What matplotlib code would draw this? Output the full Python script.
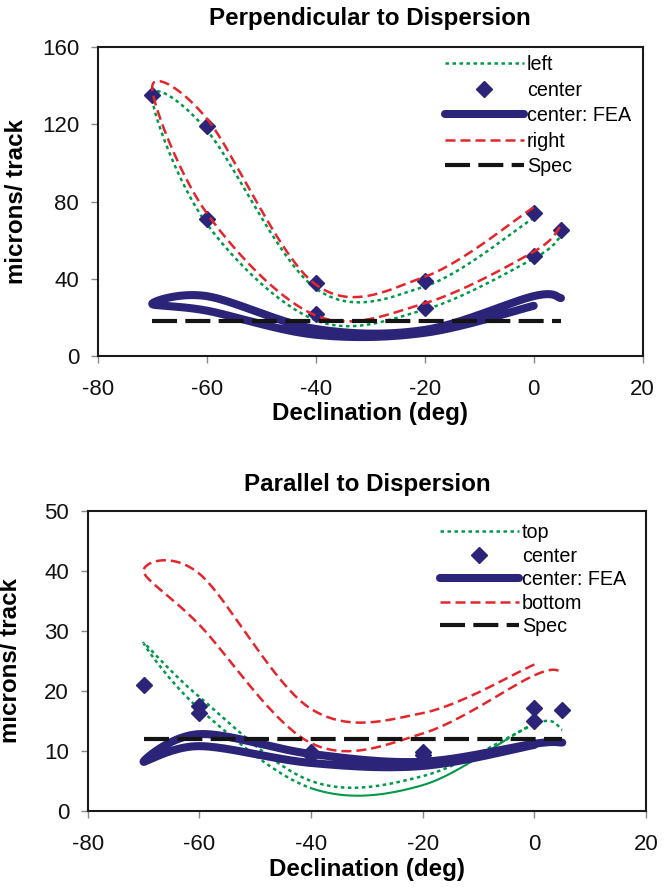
import numpy as np
import matplotlib
matplotlib.use("Agg")
import matplotlib.pyplot as plt
from matplotlib.lines import Line2D

plt.rcParams['font.family'] = ['Liberation Sans', 'DejaVu Sans']
plt.rcParams['axes.unicode_minus'] = False

# Declination sweep order shared by every measured loop (down to -70, then back up)
decl = [0, -20, -40, -60, -70, -60, -40, -20, 0, 5]

# Perpendicular to dispersion (microns / track)
perp_left = [71.5, 36, 35, 117, 134, 68.5, 18.5, 24, 50.5, 62]
perp_right = [77, 41, 37, 123, 139, 74, 21, 27.3, 54, 67.5]
perp_fea = [26, 12, 11, 23.5, 27, 31, 14, 13.5, 31, 30]
perp_center_x = [-70, -60, -60, -40, -40, -20, -20, 0, 0, 5]
perp_center_y = [135, 119, 71, 38, 22, 39, 25, 74, 52, 65]
perp_spec = 18

# Parallel to dispersion (microns / track)
par_top = [14.5, 5.8, 5, 19, 28, 17, 3.8, 4.3, 14.5, 13.5]
par_bottom = [24.4, 16.3, 17, 39.5, 40, 31, 11.3, 12.9, 22.6, 23.2]
par_fea = [11, 7.5, 8, 10.8, 8.2, 12.8, 9.5, 8.2, 11.2, 11.4]
par_center_x = [-70, -60, -60, -40, -40, -20, -20, 0, 0, 5]
par_center_y = [21, 17.5, 16.4, 9.8, 9.3, 9.9, 9.4, 17.1, 15.0, 16.8]
par_spec = 12

spec_x = [-70, 5]
xticks = [-80, -60, -40, -20, 0, 20]
perp_yticks = [0, 40, 80, 120, 160]
par_yticks = [0, 10, 20, 30, 40, 50]

GREEN = '#00994a'
RED = '#e3262b'
NAVY = '#2b2478'
BLACK = '#141414'


def smooth(xs, ys, n=40):
    """Smoothed line through the points (cubic Bezier, 1/6 tangent rule)."""
    P = np.column_stack([xs, ys]).astype(float)
    pts, par = [], []
    t = np.linspace(0, 1, n)[:, None]
    for i in range(len(P) - 1):
        p0 = P[i - 1] if i > 0 else P[i]
        p1, p2 = P[i], P[i + 1]
        p3 = P[i + 2] if i + 2 < len(P) else P[i + 1]
        c1 = p1 + (p2 - p0) / 6
        c2 = p2 - (p3 - p1) / 6
        seg = (1 - t) ** 3 * p1 + 3 * (1 - t) ** 2 * t * c1 + 3 * (1 - t) * t ** 2 * c2 + t ** 3 * p2
        pts.append(seg)
        par.append(i + t[:, 0])
    pts = np.vstack(pts)
    return pts[:, 0], pts[:, 1], np.concatenate(par)


fig = plt.figure(figsize=(6.69, 8.88), dpi=100)
W, H = 669, 888
ax1 = fig.add_axes([97.7 / W, 1 - 356 / H, 545 / W, 309 / H])
ax2 = fig.add_axes([87.7 / W, 1 - 811 / H, 558.3 / W, 300.3 / H])

dot = (0, (1.4, 1.4))
dash = (0, (4, 2))
spec_ls = (0, (6, 2))


def style_axes(ax, yticks, title, ylab_x, title_y):
    ax.set_xlim(-80, 20)
    ax.set_ylim(yticks[0], yticks[-1])
    ax.set_xticks(xticks)
    ax.set_yticks(yticks)
    ax.tick_params(direction='out', length=5, width=1, color='#888888',
                   labelsize=16, labelcolor='#111111')
    ax.tick_params(axis='x', pad=11.5)
    ax.tick_params(axis='y', pad=8.4)
    for sp in ax.spines.values():
        sp.set_linewidth(1.5)
        sp.set_color('#1a1a1a')
    ax.set_title(title, fontsize=17.4, fontweight='bold', y=title_y, va='center', pad=0)
    ax.set_xlabel('Declination (deg)', fontsize=17.4, fontweight='bold')
    ax.set_ylabel('microns/ track', fontsize=17.4, fontweight='bold')
    ax.yaxis.set_label_coords(ylab_x, 0.5)


# ---- Perpendicular panel ----
x, y, _ = smooth(decl, perp_left)
ax1.plot(x, y, color=GREEN, lw=1.8, ls=dot)
ax1.plot(perp_center_x, perp_center_y, ls='none', marker='D', ms=8, color=NAVY)
x, y, _ = smooth(decl, perp_fea)
ax1.plot(x, y, color=NAVY, lw=5.8, solid_capstyle='round')
x, y, _ = smooth(decl, perp_right)
ax1.plot(x, y, color=RED, lw=1.8, ls=dash)
ax1.plot(spec_x, [perp_spec] * 2, color=BLACK, lw=3, ls=spec_ls)

style_axes(ax1, perp_yticks, 'Perpendicular to Dispersion', (28 - 97.7) / 545,
           (356 - 18) / 309)
ax1.xaxis.set_label_coords(0.5, (356 - 413) / 309)
ax1.xaxis.label.set_va('center')

# ---- Parallel panel ----
x, y, s = smooth(decl, par_top)
solid = (s >= 6) & (x <= -5)
ax2.plot(np.where(s <= 6, x, np.nan), np.where(s <= 6, y, np.nan), color=GREEN, lw=1.8, ls=dot)
tail = (s >= 6) & (x >= -5.5)
ax2.plot(np.where(tail, x, np.nan), np.where(tail, y, np.nan), color=GREEN, lw=1.8, ls=dot)
ax2.plot(np.where(solid, x, np.nan), np.where(solid, y, np.nan), color=GREEN, lw=1.5)
ax2.plot(par_center_x, par_center_y, ls='none', marker='D', ms=8, color=NAVY)
x, y, _ = smooth(decl, par_fea)
ax2.plot(x, y, color=NAVY, lw=5.8, solid_capstyle='round')
x, y, _ = smooth(decl, par_bottom)
ax2.plot(x, y, color=RED, lw=1.8, ls=dash)
ax2.plot(spec_x, [par_spec] * 2, color=BLACK, lw=3, ls=spec_ls)

style_axes(ax2, par_yticks, 'Parallel to Dispersion', (22 - 87.7) / 558.3,
           (811 - 484) / 300.3)
ax2.xaxis.set_label_coords(0.5, (811 - 869) / 300.3)
ax2.xaxis.label.set_va('center')


def legend_handles(first, fourth):
    return [
        Line2D([], [], color=GREEN, lw=1.8, ls=dot, label=first),
        Line2D([], [], color=NAVY, ls='none', marker='D', ms=8, label='center'),
        Line2D([], [], color=NAVY, lw=5.8, solid_capstyle='round', label='center: FEA'),
        Line2D([], [], color=RED, lw=1.8, ls=dash, label=fourth),
        Line2D([], [], color=BLACK, lw=3, ls=spec_ls, label='Spec'),
    ]


for ax, labels, left, top, spacing in [
        (ax1, ('left', 'right'), 445, 55, 0.33),
        (ax2, ('top', 'bottom'), 440, 523, 0.23)]:
    ax.legend(handles=legend_handles(*labels), loc='upper left',
              bbox_to_anchor=(left / W, 1 - top / H), bbox_transform=fig.transFigure,
              frameon=False, fontsize=14.2, handlelength=4.0, handletextpad=0.15,
              labelspacing=spacing, borderpad=0, borderaxespad=0, numpoints=1)

fig.savefig('out.png', dpi=100)
